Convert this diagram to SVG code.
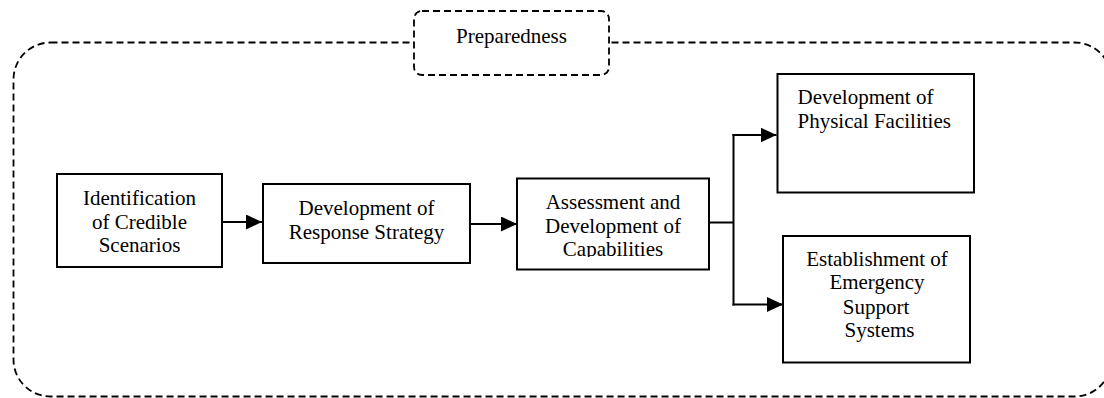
<svg xmlns="http://www.w3.org/2000/svg" width="1104" height="398" viewBox="0 0 1104 398">
  <style>
    .frame { fill: none; stroke: #000; stroke-width: 1.8; stroke-dasharray: 7 4; }
    .tag { fill: #fff; stroke: #000; stroke-width: 1.8; stroke-dasharray: 7 4; }
    .box { fill: #fff; stroke: #000; stroke-width: 2; }
    .link { fill: none; stroke: #000; stroke-width: 2; }
    .c { text-anchor: middle; }
  </style>
  <defs>
    <marker id="arrow" viewBox="0 0 16 15" refX="16" refY="7.5" markerWidth="16" markerHeight="15" markerUnits="userSpaceOnUse" orient="auto">
      <path d="M0,0 L16,7.5 L0,15 Z" fill="#000"/>
    </marker>
    <clipPath id="clip-cap">
      <rect x="517" y="178" width="192" height="79"/>
    </clipPath>
  </defs>

  <g font-family="'Liberation Serif', 'DejaVu Serif', serif" font-size="21" fill="#000">
    <!-- phase boundary -->
    <g id="phase">
      <rect class="frame" x="13.5" y="42.5" width="1098" height="354" rx="37" ry="37"/>
      <rect class="tag" x="414" y="11" width="195" height="64" rx="8" ry="8"/>
      <text class="c" x="511.5" y="43">Preparedness</text>
    </g>

    <!-- connectors -->
    <g id="connectors">
      <line class="link" x1="222" y1="222" x2="262" y2="222" marker-end="url(#arrow)"/>
      <line class="link" x1="470" y1="224" x2="517" y2="224" marker-end="url(#arrow)"/>
      <line class="link" x1="709" y1="222.5" x2="733.5" y2="222.5"/>
      <line class="link" x1="733.5" y1="134" x2="733.5" y2="305.5"/>
      <line class="link" x1="732.5" y1="135" x2="776.5" y2="135" marker-end="url(#arrow)"/>
      <line class="link" x1="732.5" y1="304.5" x2="783" y2="304.5" marker-end="url(#arrow)"/>
    </g>

    <g id="node-scenarios">
      <rect class="box" x="57" y="174" width="165" height="93"/>
      <text class="c" x="139.5" y="205">Identification</text>
      <text class="c" x="139.5" y="228.5">of Credible</text>
      <text class="c" x="139.5" y="252">Scenarios</text>
    </g>

    <g id="node-strategy">
      <rect class="box" x="263" y="184" width="207" height="79"/>
      <text class="c" x="366.5" y="214.5">Development of</text>
      <text class="c" x="366.5" y="239">Response Strategy</text>
    </g>

    <g id="node-capabilities">
      <rect class="box" x="517" y="178.5" width="192" height="91"/>
      <g clip-path="url(#clip-cap)">
        <text class="c" x="613" y="208.5">Assessment and</text>
        <text class="c" x="613" y="232.5">Development of</text>
        <text class="c" x="613" y="256">Capabilities</text>
      </g>
    </g>

    <g id="node-facilities">
      <rect class="box" x="777.5" y="74" width="196.5" height="118.5"/>
      <text x="797.5" y="103.5">Development of</text>
      <text x="797.5" y="128">Physical Facilities</text>
    </g>

    <g id="node-support">
      <rect class="box" x="783" y="236" width="187" height="126.5"/>
      <text class="c" x="877" y="265.5">Establishment of</text>
      <text class="c" x="877" y="289">Emergency</text>
      <text class="c" x="876" y="313.5">Support</text>
      <text class="c" x="879.5" y="337">Systems</text>
    </g>
  </g>
</svg>
